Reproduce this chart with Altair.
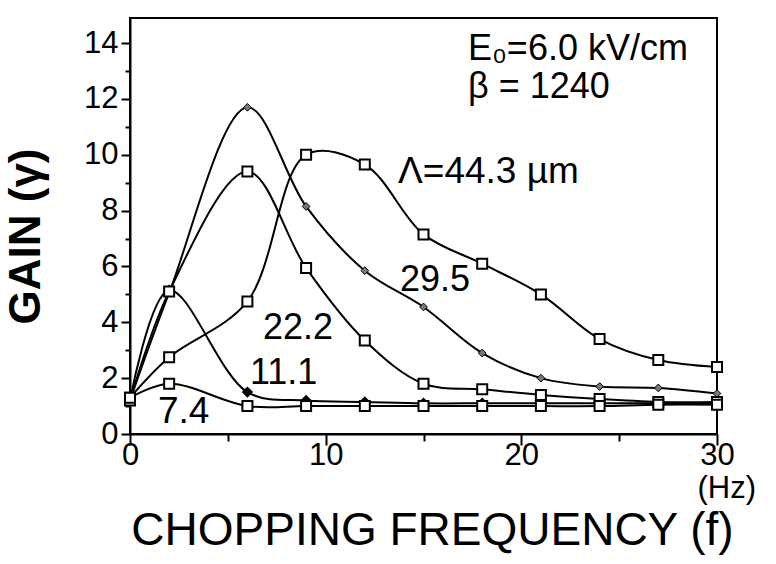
import altair as alt
import pandas as pd

# ---- data ----
freq = [0, 2, 6, 9, 12, 15, 18, 21, 24, 27, 30]
gain_443 = [1.3, 2.75, 4.75, 10.0, 9.65, 7.15, 6.1, 5.0, 3.4, 2.65, 2.4]
gain_295 = [1.2, 5.05, 11.7, 8.15, 5.85, 4.55, 2.9, 2.0, 1.7, 1.65, 1.45]
gain_222 = [1.2, 5.1, 9.4, 5.95, 3.35, 1.8, 1.6, 1.4, 1.25, 1.15, 1.15]
gain_111 = [1.2, 5.15, 1.5, 1.2, 1.15, 1.1, 1.1, 1.1, 1.1, 1.1, 1.1]
gain_74 = [1.3, 1.8, 1.0, 1.0, 1.0, 1.0, 1.0, 1.0, 1.0, 1.05, 1.05]
series_names = ["44.3", "29.5", "22.2", "11.1", "7.4"]
series_values = [gain_443, gain_295, gain_222, gain_111, gain_74]

x_major_ticks = [0, 10, 20, 30]
x_minor_ticks = [5, 15, 25]
y_major_ticks = [0, 2, 4, 6, 8, 10, 12, 14]
y_minor_ticks = [1, 3, 5, 7, 9, 11, 13]

ann_labels = ["Λ=44.3 µm", "29.5", "22.2", "11.1", "7.4", "E₀=6.0 kV/cm", "β = 1240"]
ann_f = [13.7, 13.8, 6.8, 6.13, 1.43, 17.27, 17.27]
ann_g = [9.37, 5.53, 3.8, 2.19, 0.79, 13.78, 12.42]
ann_size = [37, 36, 36, 36, 37, 36, 36]

unit_label = ["(Hz)"]
unit_f = [30.5]
unit_g = [-1.98]

rows = []
for name, vals in zip(series_names, series_values):
    for f, g in zip(freq, vals):
        rows.append({"series": name, "f": f, "g": g})
df = pd.DataFrame(rows)
ann = pd.DataFrame({"label": ann_labels, "f": ann_f, "g": ann_g, "fs": ann_size})
unit = pd.DataFrame({"label": unit_label, "f": unit_f, "g": unit_g})

FONT = "Liberation Sans"
xs = alt.Scale(domain=[0, 30], nice=False, zero=False)
ys = alt.Scale(domain=[0, 14.9], nice=False, zero=False)

common = dict(grid=False, domainColor="black", tickColor="black", domainWidth=2,
              tickWidth=2, labelColor="black", titleColor="black", labelFont=FONT,
              titleFont=FONT, labelFlush=False)

x_major = alt.Axis(values=x_major_ticks, orient="bottom", tickSize=11, labelFontSize=31,
                   labelPadding=-5, title="CHOPPING FREQUENCY (f)", titleFontSize=46,
                   titleFontWeight="normal", titleX=302, titleY=96, titleAlign="center",
                   titleBaseline="middle", **common)
y_major = alt.Axis(values=y_major_ticks, orient="left", tickSize=9, labelFontSize=31,
                   labelPadding=3, title="GAIN (γ)", titleFontSize=44, titleFontWeight="bold",
                   titleX=-104, titleY=218, titleAlign="center", titleBaseline="middle",
                   titleAngle=270, **common)
x_minor = alt.Axis(values=x_minor_ticks, orient="bottom", tickSize=7, labels=False,
                   domain=False, title=None, grid=False, tickColor="black", tickWidth=2)
y_minor = alt.Axis(values=y_minor_ticks, orient="left", tickSize=5, labels=False,
                   domain=False, title=None, grid=False, tickColor="black", tickWidth=2)

lines = alt.Chart(df).mark_line(color="black", strokeWidth=2, interpolate="catmull-rom").encode(
    x=alt.X("f:Q", scale=xs, axis=x_major),
    y=alt.Y("g:Q", scale=ys, axis=y_major),
    detail="series:N",
)

squares = alt.Chart(df).transform_filter(
    alt.FieldOneOfPredicate(field="series", oneOf=["44.3", "22.2", "7.4"])
).mark_point(shape="square", filled=True, fill="white", stroke="black", strokeWidth=2,
             size=100, opacity=1).encode(
    x=alt.X("f:Q", scale=xs, axis=x_minor),
    y=alt.Y("g:Q", scale=ys, axis=y_minor),
)

diamonds = alt.Chart(df).transform_filter(
    alt.FieldEqualPredicate(field="series", equal="11.1")
).mark_point(shape="diamond", filled=True, color="black", size=130, opacity=1).encode(
    x=alt.X("f:Q", scale=xs, axis=None),
    y=alt.Y("g:Q", scale=ys, axis=None),
)

small = alt.Chart(df).transform_filter(
    alt.FieldEqualPredicate(field="series", equal="29.5")
).mark_point(shape="diamond", filled=True, fill="#777777", stroke="black", strokeWidth=1,
             size=60, opacity=1).encode(
    x=alt.X("f:Q", scale=xs, axis=None),
    y=alt.Y("g:Q", scale=ys, axis=None),
)

texts = alt.Chart(ann).mark_text(align="left", baseline="middle", font=FONT,
                                 color="black").encode(
    x=alt.X("f:Q", scale=xs, axis=None),
    y=alt.Y("g:Q", scale=ys, axis=None),
    text="label:N",
    size=alt.Size("fs:Q", scale=None),
)

unit_text = alt.Chart(unit).mark_text(align="center", baseline="middle", font=FONT,
                                      fontSize=31, color="black").encode(
    x=alt.X("f:Q", scale=xs, axis=None),
    y=alt.Y("g:Q", scale=ys, axis=None),
    text="label:N",
)

chart = alt.layer(lines, small, diamonds, squares, texts, unit_text).resolve_axis(
    x="independent", y="independent"
).properties(
    width=587, height=416,
    autosize=alt.AutoSizeParams(type="none"),
    padding={"left": 130, "top": 18, "right": 59, "bottom": 130},
    background="white",
).configure_view(stroke="black", strokeWidth=2)

chart.save("out.html", embed_options={"renderer": "svg", "actions": False})
